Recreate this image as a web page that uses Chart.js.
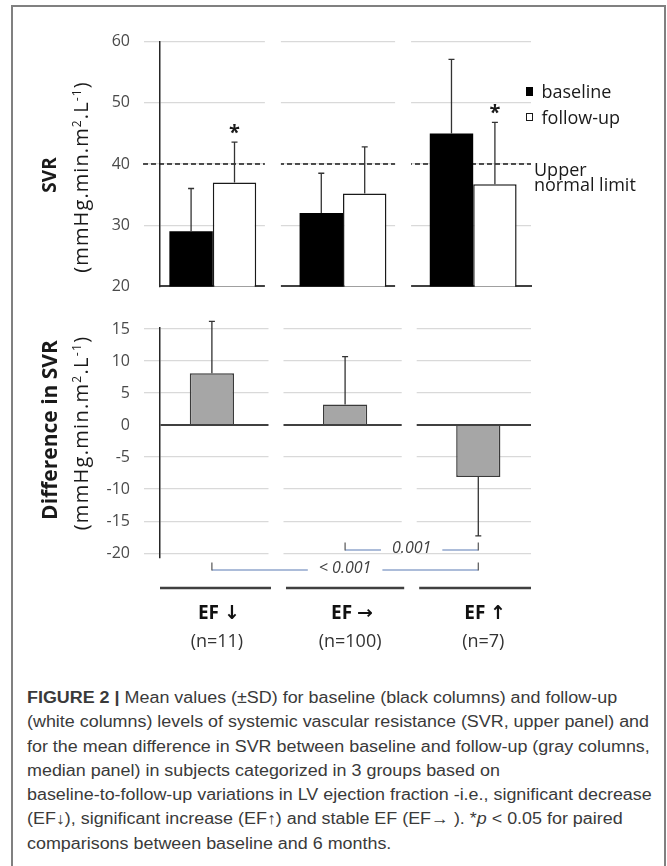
<!DOCTYPE html>
<html>
<head>
<meta charset="utf-8">
<script src="https://cdn.jsdelivr.net/npm/chart.js@4.4.1/dist/chart.umd.min.js"></script>
<style>
@font-face{font-family:'ArrowFont';src:local('DejaVu Sans Bold'),local('DejaVuSans-Bold');font-weight:bold;unicode-range:U+2190-21FF;}
@font-face{font-family:'ArrowFont';src:local('DejaVu Sans'),local('DejaVuSans');font-weight:normal;unicode-range:U+2190-21FF;}
html,body{margin:0;padding:0;background:#fff;}
body{width:667px;height:866px;position:relative;overflow:hidden;font-family:'Open Sans',sans-serif;}
#frame{position:absolute;left:11px;top:5px;width:655px;height:900px;border:2px solid #808080;border-bottom:none;box-sizing:border-box;}
canvas{position:absolute;left:0;}
#c1{top:0;}
#c2{top:300px;}
.ytitle{position:absolute;transform:translate(-50%,-50%) rotate(-90deg);white-space:nowrap;color:#1a1a1a;line-height:1;}
.ytitle sup{font-size:0.6em;vertical-align:0.6em;line-height:0;}
.bold{font-weight:bold;}
#legend{position:absolute;left:526px;top:81px;font-size:18px;color:#1a1a1a;}
.lg-row{position:relative;height:25.5px;line-height:20px;}
.lg-box{position:absolute;left:0;top:6px;width:7px;height:8.5px;box-sizing:border-box;}
.lg-text{position:absolute;left:15.5px;top:0;white-space:nowrap;}
#refLabel{position:absolute;left:534px;top:162px;font-size:18px;line-height:15px;color:#1a1a1a;white-space:nowrap;}
#caption{position:absolute;left:26.5px;top:686px;font-family:'Liberation Sans',Arial,sans-serif;font-size:16px;line-height:24.3px;color:#3a3a3a;transform-origin:0 0;}
#caption div{white-space:nowrap;width:max-content;}
</style>
</head>
<body>
<div id="frame"></div>
<canvas id="c1" width="667" height="310"></canvas>
<canvas id="c2" width="667" height="360"></canvas>
<div class="ytitle bold" style="left:48.5px;top:175px;font-size:19px;">SVR</div>
<div class="ytitle" style="left:81px;top:176.5px;font-size:20px;letter-spacing:1.1px;">(mmHg.min.m<sup>2</sup>.L<sup>-1</sup>)</div>
<div class="ytitle bold" style="left:48.5px;top:430px;font-size:21px;">Difference in SVR</div>
<div class="ytitle" style="left:81px;top:433px;font-size:20px;letter-spacing:1.3px;">(mmHg.min.m<sup>2</sup>.L<sup>-1</sup>)</div>
<div id="legend"></div>
<div id="refLabel"></div>
<div id="caption">
<div><b>FIGURE 2 |</b> Mean values (±SD) for baseline (black columns) and follow-up</div>
<div>(white columns) levels of systemic vascular resistance (SVR, upper panel) and</div>
<div>for the mean difference in SVR between baseline and follow-up (gray columns,</div>
<div>median panel) in subjects categorized in 3 groups based on</div>
<div id="capRef">baseline-to-follow-up variations in LV ejection fraction -i.e., significant decrease</div>
<div>(EF↓), significant increase (EF↑) and stable EF (EF→ ). *<i>p</i> &lt; 0.05 for paired</div>
<div>comparisons between baseline and 6 months.</div>
</div>
<script>
// ---- data ----
const categories = ['EF ↓', 'EF →', 'EF ↑'];
const groupSizes = ['(n=11)', '(n=100)', '(n=7)'];
const seriesNames = ['baseline', 'follow-up'];
const baselineSVR = [29.0, 32.0, 45.0];
const baselineSD = [7.0, 6.5, 12.1];
const followupSVR = [37.0, 35.2, 36.7];
const followupSD = [6.6, 7.6, 10.1];
const followupMarks = ['*', '', '*'];
const diffSVR = [8.1, 3.2, -8.1];
const diffSD = [8.1, 7.5, 9.2];
const upperNormalLimit = 40;
const refLineLabel = ['Upper', 'normal limit'];
const svrTicks = [20, 30, 40, 50, 60];
const diffTicks = [-20, -15, -10, -5, 0, 5, 10, 15];
const comparisonFrom = [1, 0];
const comparisonTo = [2, 2];
const comparisonP = ['0.001', '< 0.001'];

const FONT = "'Open Sans', sans-serif";
const LABEL_FONT = "'ArrowFont', 'Open Sans', 'DejaVu Sans', sans-serif";
const toPoints = arr => arr.map((v, i) => ({x: i + 1, y: v}));
const catTicks = s => { s.ticks = categories.map((c, i) => ({value: i + 1})); };

const panelPlugin = {
  id: 'panel',
  beforeDatasetsDraw(chart, args, opts) {
    const {ctx, chartArea: a, scales: {x, y}} = chart;
    ctx.save();
    if (opts.refValue !== undefined) {
      const yy = y.getPixelForValue(opts.refValue);
      ctx.strokeStyle = '#1a1a1a';
      ctx.lineWidth = 1.5;
      ctx.setLineDash([5, 3]);
      ctx.beginPath();
      ctx.moveTo(a.left - 17, yy);
      ctx.lineTo(a.right, yy);
      ctx.stroke();
      ctx.setLineDash([]);
    }
    ctx.fillStyle = '#fff';
    for (let i = 1; i < categories.length; i++) {
      const b = x.getPixelForValue(i + 0.5) + opts.shift;
      ctx.fillRect(b - opts.half, a.top - 3, 2 * opts.half, a.bottom - a.top + 6);
    }
    ctx.restore();
  }
};

const errorBarPlugin = {
  id: 'errorBars',
  afterDatasetsDraw(chart) {
    const {ctx, scales: {y}} = chart;
    chart.data.datasets.forEach((ds, di) => {
      if (!ds.sd) return;
      const meta = chart.getDatasetMeta(di);
      meta.data.forEach((bar, i) => {
        const v = ds.data[i].y, sd = ds.sd[i];
        const end = v >= 0 ? v + sd : v - sd;
        const y0 = y.getPixelForValue(v), y1 = y.getPixelForValue(end);
        ctx.save();
        ctx.strokeStyle = '#333';
        ctx.lineWidth = 1.3;
        ctx.beginPath();
        ctx.moveTo(bar.x, y0); ctx.lineTo(bar.x, y1);
        ctx.moveTo(bar.x - 3, y1); ctx.lineTo(bar.x + 3, y1);
        ctx.stroke();
        if (ds.marks && ds.marks[i]) {
          ctx.fillStyle = '#1a1a1a';
          ctx.font = 'bold 20px ' + FONT;
          ctx.textAlign = 'center';
          ctx.textBaseline = 'alphabetic';
          ctx.fillText(ds.marks[i], bar.x, y1 - 3);
        }
        ctx.restore();
      });
    });
  }
};

const bottomDecor = {
  id: 'bottomDecor',
  afterDraw(chart) {
    const {ctx, chartArea: a, scales: {x}} = chart;
    ctx.save();
    const ly = a.bottom + 30;
    ctx.strokeStyle = '#404040';
    ctx.lineWidth = 2.5;
    categories.forEach((c, i) => {
      const l = i === 0 ? a.left : x.getPixelForValue(i + 0.5) + 7.5;
      const r = i === categories.length - 1 ? a.right : x.getPixelForValue(i + 1.5) - 7.5;
      ctx.beginPath(); ctx.moveTo(l, ly); ctx.lineTo(r, ly); ctx.stroke();
    });
    const offs = [-8, 12];
    ctx.font = 'italic 16px ' + FONT;
    comparisonP.forEach((p, k) => {
      const x1 = x.getPixelForValue(comparisonFrom[k] + 1);
      const x2 = x.getPixelForValue(comparisonTo[k] + 1);
      const yy = a.bottom + offs[k];
      const mid = (x1 + x2) / 2;
      const tw = ctx.measureText(p).width;
      ctx.strokeStyle = '#5b7bb3';
      ctx.lineWidth = 1.2;
      ctx.beginPath();
      ctx.moveTo(x1, yy); ctx.lineTo(mid - tw / 2 - 11, yy);
      ctx.moveTo(mid + tw / 2 + 11, yy); ctx.lineTo(x2, yy);
      ctx.stroke();
      ctx.strokeStyle = '#555';
      ctx.beginPath();
      ctx.moveTo(x1, yy + 0.5); ctx.lineTo(x1, yy - 7.5);
      ctx.moveTo(x2, yy + 0.5); ctx.lineTo(x2, yy - 7.5);
      ctx.stroke();
      ctx.fillStyle = '#404040';
      ctx.textAlign = 'center';
      ctx.textBaseline = 'middle';
      ctx.fillText(p, mid, yy - 2);
    });
    ctx.restore();
  }
};

const yCommon = (ticksArr) => ({
  afterBuildTicks: s => { s.ticks = ticksArr.map(v => ({value: v})); },
  afterFit: s => { s.width = 160; },
  border: {display: true, color: '#262626', width: 1.5},
  ticks: {padding: 14, color: '#4a4a4a', font: {family: FONT, size: 16}, callback: v => String(v)}
});

function build() {
  const yTop = yCommon(svrTicks);
  yTop.min = 20; yTop.max = 60;
  yTop.grid = {
    color: c => (c.tick && c.tick.value === 20) ? 'rgba(0,0,0,0)' : '#d9d9d9',
    lineWidth: 1.3, tickLength: 16
  };
  const chart1 = new Chart(document.getElementById('c1'), {
    type: 'bar',
    data: {
      datasets: [
        {label: seriesNames[0], data: toPoints(baselineSVR), sd: baselineSD,
         backgroundColor: '#000', borderColor: '#000', borderWidth: 0},
        {label: seriesNames[1], data: toPoints(followupSVR), sd: followupSD, marks: followupMarks,
         backgroundColor: '#fff', borderColor: '#1a1a1a', borderWidth: 1.5}
      ]
    },
    options: {
      responsive: false, animation: false,
      layout: {padding: {top: 41.7, left: 0, right: 136, bottom: 0}},
      datasets: {bar: {categoryPercentage: 0.667, barPercentage: 1}},
      plugins: {legend: {display: false}, tooltip: {enabled: false},
                panel: {shift: -5, half: 8, refValue: upperNormalLimit}},
      scales: {
        x: {type: 'linear', min: 0.5945, max: 3.444, offset: false,
            grid: {display: false, offset: false, drawTicks: false},
            ticks: {display: false},
            border: {display: true, color: '#404040', width: 2},
            afterBuildTicks: catTicks,
            afterFit: s => { s.height = 14; }},
        y: yTop
      }
    },
    plugins: [panelPlugin, errorBarPlugin]
  });

  const yBot = yCommon(diffTicks);
  yBot.min = -20.75; yBot.max = 15.2;
  yBot.grid = {
    color: c => (c.tick && c.tick.value === 0) ? '#404040' : '#d9d9d9',
    lineWidth: c => (c.tick && c.tick.value === 0) ? 2 : 1.3,
    tickColor: c => (c.tick && c.tick.value === 0) ? 'rgba(0,0,0,0)' : '#d9d9d9',
    tickLength: 16
  };
  new Chart(document.getElementById('c2'), {
    type: 'bar',
    data: {
      datasets: [
        {label: 'difference', data: toPoints(diffSVR), sd: diffSD,
         backgroundColor: '#a6a6a6', borderColor: '#3a3a3a', borderWidth: 1.5}
      ]
    },
    options: {
      responsive: false, animation: false,
      layout: {padding: {top: 27.7, left: 0, right: 136, bottom: 8}},
      datasets: {bar: {categoryPercentage: 0.332, barPercentage: 1}},
      plugins: {legend: {display: false}, tooltip: {enabled: false},
                panel: {shift: -2.5, half: 7.5}},
      scales: {
        x: {type: 'linear', position: 'bottom', weight: 0, min: 0.6104, max: 3.3957, offset: false,
            grid: {display: false, offset: false, drawTicks: false},
            border: {display: false},
            afterBuildTicks: catTicks,
            afterFit: s => { s.height = 67; },
            ticks: {padding: 44.5, labelOffset: 7, maxRotation: 0, autoSkip: false,
                    color: '#111', font: {family: LABEL_FONT, size: 19, weight: 'bold'},
                    callback: v => categories[v - 1]}},
        x2: {type: 'linear', axis: 'x', position: 'bottom', weight: 1, min: 0.6104, max: 3.3957, offset: false,
            grid: {display: false, offset: false, drawTicks: false},
            border: {display: false},
            afterBuildTicks: catTicks,
            afterFit: s => { s.height = 27; },
            ticks: {padding: 6.2, labelOffset: 5, maxRotation: 0, autoSkip: false,
                    color: '#333', font: {family: FONT, size: 18},
                    callback: v => groupSizes[v - 1]}},
        y: yBot
      }
    },
    plugins: [panelPlugin, errorBarPlugin, bottomDecor]
  });

  const legend = document.getElementById('legend');
  chart1.data.datasets.forEach(ds => {
    const row = document.createElement('div');
    row.className = 'lg-row';
    const box = document.createElement('div');
    box.className = 'lg-box';
    box.style.background = ds.backgroundColor;
    box.style.border = '1px solid ' + (ds.borderWidth ? ds.borderColor : ds.backgroundColor);
    const t = document.createElement('div');
    t.className = 'lg-text';
    t.textContent = ds.label;
    row.appendChild(box); row.appendChild(t);
    legend.appendChild(row);
  });
  document.getElementById('refLabel').innerHTML = refLineLabel.join('<br>');
}

function fitCaption() {
  const ref = document.getElementById('capRef');
  const tw = ref.offsetWidth;
  if (tw > 0) document.getElementById('caption').style.transform = 'scaleX(' + (624.5 / tw) + ')';
}

let built = false;
function start() { if (built) return; built = true; build(); fitCaption(); }
fitCaption();
if (document.fonts && document.fonts.load) {
  Promise.all([
    document.fonts.load("bold 19px ArrowFont", "↓→↑"),
    document.fonts.load("16px 'Liberation Sans'", "abc")
  ]).then(start, start);
  setTimeout(start, 500);
} else {
  start();
}
</script>
</body>
</html>
